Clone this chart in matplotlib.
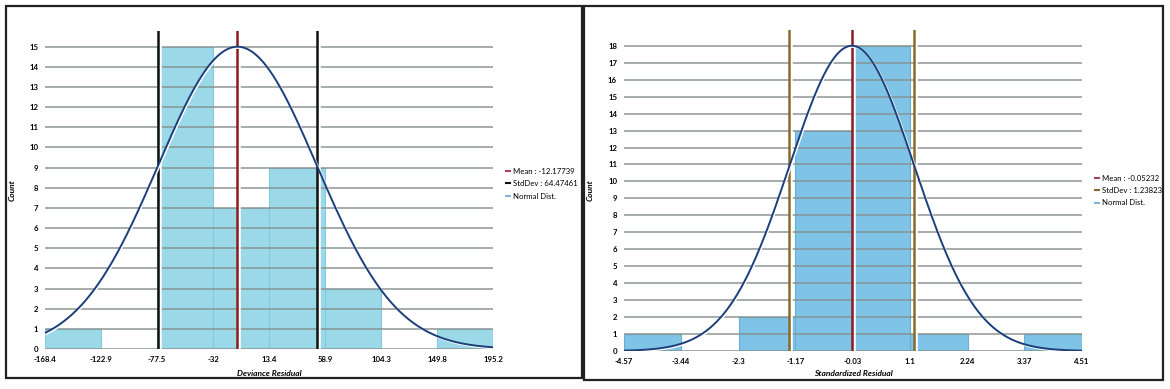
import matplotlib
matplotlib.use("Agg")
import matplotlib.pyplot as plt
import matplotlib.patheffects as pe
from matplotlib.lines import Line2D
from matplotlib.patches import Rectangle
import numpy as np

plt.rcParams["font.family"] = ["Lato", "DejaVu Sans"]

# ---------------- data ----------------
dev_edges = [-168.4, -122.9, -77.5, -32, 13.4, 58.9, 104.3, 149.8, 195.2]
dev_counts = [1, 0, 15, 7, 9, 3, 0, 1]
dev_mean = -12.17739
dev_std = 64.47461

std_edges = [-4.57, -3.44, -2.3, -1.17, -0.03, 1.1, 2.24, 3.37, 4.51]
std_counts = [1, 0, 2, 13, 18, 1, 0, 1]
std_mean = -0.05232
std_std = 1.23823

CURVE = "#1c3f7c"
GRID = "#86908f"

fig = plt.figure(figsize=(11.7, 3.89), dpi=100)

# black frames around the two panels
for (x0, y0, x1, y1) in [(6, 6, 582, 378), (584, 6, 1163, 380)]:
    fig.patches.append(Rectangle((x0 / 1170, 1 - y1 / 389), (x1 - x0) / 1170,
                                 (y1 - y0) / 389, transform=fig.transFigure,
                                 fill=False, ec="#222222", lw=1.6))


def panel(rect, edges, counts, mean, std, top, bar_fc, bar_ec, sd_color,
          xlabel, leg_pos, xlabpad):
    ax = fig.add_axes(rect)
    edges = np.array(edges, dtype=float)
    ax.bar(edges[:-1], counts, width=np.diff(edges), align="edge",
           color=bar_fc, edgecolor=bar_ec, linewidth=0.8, zorder=1)
    # horizontal grid drawn over the bars
    for k in range(int(max(counts)) + 1):
        ax.plot([edges[0], edges[-1]], [k, k], color=GRID, lw=1.3,
                alpha=0.8, zorder=2, solid_capstyle="butt")
    shadow = [pe.SimpleLineShadow(offset=(1.2, 0), shadow_color="white",
                                  alpha=1), pe.Normal()]
    ax.axvline(mean, color="#8b1c22", lw=1.8, zorder=3, path_effects=shadow)
    for v in (mean - std, mean + std):
        ax.axvline(v, color=sd_color, lw=1.8, zorder=3, path_effects=shadow)
    xs = np.linspace(edges[0], edges[-1], 400)
    ys = max(counts) * np.exp(-0.5 * ((xs - mean) / std) ** 2)
    ax.plot(xs, ys, color=CURVE, lw=1.4, zorder=4,
            path_effects=[pe.SimpleLineShadow(offset=(0.8, -0.8),
                                              shadow_color="white", alpha=1),
                          pe.Normal()])
    ax.set_xlim(edges[0], edges[-1])
    ax.set_ylim(0, top)
    ax.set_xticks(edges)
    ax.set_xticklabels([f"{e:g}" for e in edges])
    ax.set_yticks(range(int(max(counts)) + 1))
    ax.tick_params(length=0, labelsize=5.6, pad=5)
    for lab in ax.get_xticklabels() + ax.get_yticklabels():
        lab.set_fontweight("bold")
    for s in ax.spines.values():
        s.set_visible(False)
    ax.set_xlabel(xlabel, fontsize=6, style="italic", fontweight="bold",
                  labelpad=xlabpad)
    ax.set_ylabel("Count", fontsize=6, style="italic", fontweight="bold",
                  labelpad=10)
    handles = [Line2D([], [], color="#a8405c", lw=1.5),
               Line2D([], [], color=sd_color, lw=1.5),
               Line2D([], [], color="#7fb6d9", lw=1.5)]
    labels = [f"Mean : {mean:.5f}", f"StdDev : {std:.5f}", "Normal Dist."]
    ax.legend(handles, labels, loc="center left", bbox_to_anchor=leg_pos,
              frameon=False, fontsize=5.6, handlelength=0.5,
              handletextpad=0.4, labelspacing=0.7, borderpad=0)
    return ax


panel([45 / 1170, 40 / 389, 448 / 1170, 318 / 389], dev_edges, dev_counts,
      dev_mean, dev_std, 15.78, "#9bd9e8", "#84c9e2", "#111111",
      "Deviance Residual", (1.02, 0.52), 5)
panel([624 / 1170, 38 / 389, 458 / 1170, 321 / 389], std_edges, std_counts,
      std_mean, std_std, 18.93, "#7fc3e6", "#6aaed6", "#8a6a2a",
      "Standardized Residual", (1.02, 0.5), 4)

fig.savefig("out.png", dpi=100)
